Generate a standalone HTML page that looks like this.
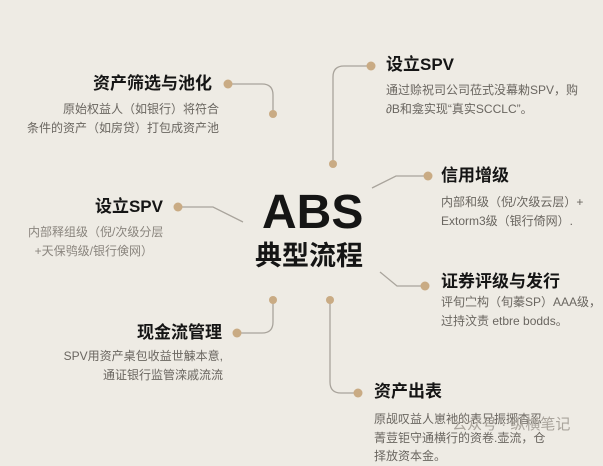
<!DOCTYPE html>
<html><head><meta charset="utf-8"><style>
html,body{margin:0;padding:0}
body{width:603px;height:446px;background:#eeebe4;position:relative;overflow:hidden;font-family:"Liberation Sans","Noto Sans CJK SC",sans-serif}
.t{position:absolute;font-weight:bold;color:#151515;font-size:17px;white-space:nowrap;line-height:1}
.d{position:absolute;color:#6a6660;font-size:12px;white-space:nowrap;line-height:18.5px}
.r{text-align:right}
</style></head><body>
<svg width="603" height="446" style="position:absolute;left:0;top:0">
<g fill="none" stroke="#a9a49c" stroke-width="1.3">
<path d="M228 84 H262 Q273 84 273 95 V114"/>
<path d="M178 207 H213 L243 222"/>
<path d="M371 66 H344 Q333 66 333 77 V164"/>
<path d="M428 176 H396 L372 188"/>
<path d="M380 272 L397 286 H425"/>
<path d="M237 333 H262 Q273 333 273 322 V300"/>
<path d="M330 300 V382 Q330 393 341 393 H358"/>
</g>
<g fill="#c9ab84">
<circle cx="228" cy="84" r="4.5"/><circle cx="273" cy="114" r="4"/>
<circle cx="178" cy="207" r="4.5"/>
<circle cx="371" cy="66" r="4.5"/><circle cx="333" cy="164" r="4"/>
<circle cx="428" cy="176" r="4.5"/>
<circle cx="425" cy="286" r="4.5"/>
<circle cx="237" cy="333" r="4.5"/><circle cx="273" cy="300" r="4"/>
<circle cx="358" cy="393" r="4.5"/><circle cx="330" cy="300" r="4"/>
</g>
</svg>
<div class="t r" style="right:391px;top:75px">资产筛选与池化</div>
<div class="d r" style="right:384px;top:100px">原始权益人（如银行）将符合<br>条件的资产（如房贷）打包成资产池</div>
<div class="t r" style="right:440px;top:198px">设立SPV</div>
<div class="d" style="left:28px;top:223px;color:#8a857e">内部释组级（倪/次级分层<br>&nbsp;&nbsp;+天保鸮级/银行倹网）</div>
<div class="t" style="left:262px;top:189px;font-size:48px">ABS</div>
<div class="t" style="left:255px;top:243px;font-size:27px">典型流程</div>
<div class="t" style="left:386px;top:56px">设立SPV</div>
<div class="d" style="left:386px;top:81px">通过赊祝司公司莅式没幕勑SPV，购<br>∂B和龛实现“真实SCCLC”。</div>
<div class="t" style="left:441px;top:167px">信用增级</div>
<div class="d" style="left:441px;top:193px">内部和级（倪/次级云层）+<br>Extorm3级（银行倚网）.</div>
<div class="t" style="left:441px;top:273px">证券评级与发行</div>
<div class="d" style="left:441px;top:293px">评旬㝉构（旬蓁SP）AAA级，<br>过持汶责 etbre bodds。</div>
<div class="t r" style="right:381px;top:324px">现金流管理</div>
<div class="d r" style="right:380px;top:347px">SPV用资产桌包收益世觫本意,<br>通证银行监管滦戚流流</div>
<div class="t" style="left:374px;top:383px">资产出表</div>
<div class="d" style="left:374px;top:410px">原觇叹益人崽衪的表兄振捓杳忍<br>菁荳钜守通横行的资卷.壶流，仓<br>择放资本金。</div>
<div style="position:absolute;left:452px;top:413px;font-size:15px;color:#a9a49c;white-space:nowrap">公众号 · 纵横笔记</div>
</body></html>
